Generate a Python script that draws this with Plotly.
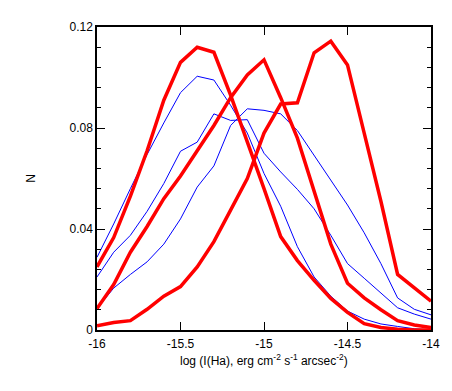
import plotly.graph_objects as go

x_vals = [-16.0, -15.9, -15.8, -15.7, -15.6, -15.5, -15.4, -15.3, -15.2, -15.1, -15.0,
          -14.9, -14.8, -14.7, -14.6, -14.5, -14.4, -14.3, -14.2, -14.1, -14.0]

red_a = [0.025, 0.0366, 0.053, 0.071, 0.091, 0.106, 0.112, 0.110, 0.093, 0.075, 0.056,
         0.037, 0.0275, 0.0197, 0.0125, 0.007, 0.0025, 0.001, 0.0003, 0.0, 0.0]
red_b = [0.0085, 0.018, 0.0308, 0.041, 0.052, 0.061, 0.071, 0.081, 0.092, 0.101, 0.107,
         0.092, 0.076, 0.055, 0.034, 0.0185, 0.0127, 0.008, 0.0037, 0.002, 0.001]
red_c = [0.0017, 0.003, 0.0037, 0.0082, 0.0134, 0.0172, 0.025, 0.035, 0.0475, 0.060, 0.078,
         0.0895, 0.090, 0.1098, 0.1144, 0.105, 0.078, 0.051, 0.022, 0.0165, 0.0114]

blue_a = [0.0288, 0.042, 0.056, 0.0695, 0.082, 0.094, 0.1005, 0.099, 0.089, 0.078, 0.062,
          0.049, 0.033, 0.021, 0.0134, 0.0075, 0.0043, 0.0024, 0.0014, 0.0005, 0.0]
blue_b = [0.021, 0.0308, 0.0375, 0.047, 0.058, 0.0708, 0.0744, 0.0856, 0.083, 0.0833, 0.070,
          0.0626, 0.0557, 0.048, 0.0375, 0.0263, 0.0205, 0.0146, 0.0088, 0.0063, 0.0043]
blue_c = [0.0085, 0.0166, 0.022, 0.027, 0.034, 0.044, 0.0566, 0.065, 0.081, 0.0876, 0.087,
          0.0856, 0.079, 0.069, 0.059, 0.0495, 0.0385, 0.0263, 0.0127, 0.0082, 0.006]

x_tick_vals = [-16, -15.5, -15, -14.5, -14]
x_tick_text = ["-16", "-15.5", "-15", "-14.5", "-14"]
y_tick_vals = [0, 0.04, 0.08, 0.12]
y_tick_text = ["0", "0.04", "0.08", "0.12"]

fig = go.Figure()
for ys in (blue_a, blue_b, blue_c):
    fig.add_trace(go.Scatter(x=x_vals, y=ys, mode="lines",
                             line=dict(color="#0000ff", width=1), showlegend=False))
for ys in (red_a, red_b, red_c):
    fig.add_trace(go.Scatter(x=x_vals, y=ys, mode="lines",
                             line=dict(color="#ff0000", width=3.5), showlegend=False))

font = dict(family="Liberation Sans, Arial, sans-serif", size=12, color="black")

fig.update_layout(
    width=444, height=383,
    margin=dict(l=89, r=19, t=12, b=61),
    paper_bgcolor="white", plot_bgcolor="white",
    font=font,
    showlegend=False,
    xaxis=dict(range=[-16, -14], tickvals=x_tick_vals, ticktext=x_tick_text,
               ticks="inside", ticklen=8, tickwidth=1, tickcolor="black",
               showline=True, linecolor="black", linewidth=1.5, mirror="ticks",
               showgrid=False, zeroline=False, tickfont=font, ticklabelstandoff=2),
    yaxis=dict(range=[0, 0.12], tickvals=y_tick_vals, ticktext=y_tick_text,
               ticks="inside", ticklen=8, tickwidth=1, tickcolor="black",
               showline=True, linecolor="black", linewidth=1.5, mirror="ticks",
               showgrid=False, zeroline=False, tickfont=font,
               minor=dict(ticks="inside", ticklen=4, tickcolor="black", dtick=0.008,
                          tick0=0, showgrid=False)),
    annotations=[
        dict(text="log (I(Ha), erg cm<sup>-2</sup> s<sup>-1</sup> arcsec<sup>-2</sup>)",
             xref="paper", yref="paper", x=0.5, y=-0.1, yanchor="middle",
             xanchor="center", showarrow=False, font=font),
        dict(text="N", xref="paper", yref="paper", x=-0.2, y=0.5,
             xanchor="center", yanchor="middle", textangle=-90,
             showarrow=False, font=font),
    ],
)

fig.write_html("out.html")
